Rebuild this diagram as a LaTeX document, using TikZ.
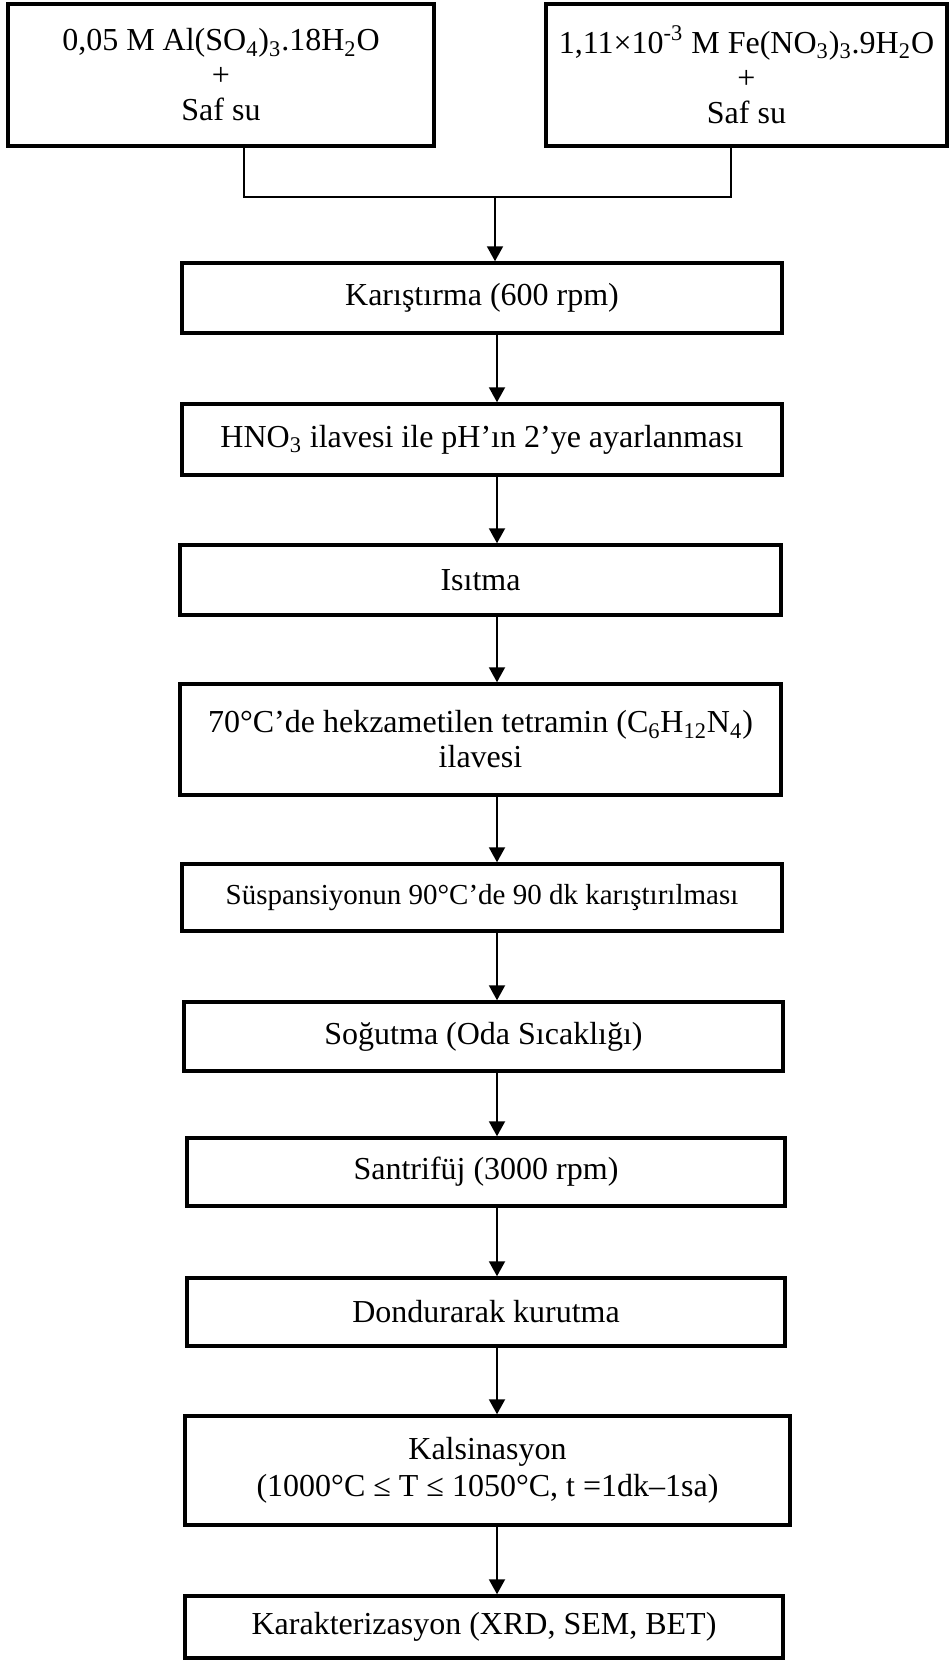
\documentclass[tikz,border=0pt]{standalone}
\usepackage{fontspec}
\setmainfont{Liberation Serif}
\usetikzlibrary{arrows.meta}
\newcommand{\chemsub}[1]{\textsubscript{#1}}

\begin{document}
\begin{tikzpicture}[x=0.5pt, y=-0.5pt,
	box/.style={draw, line width=1.75pt, inner sep=0pt, align=center, font=\fontsize{16}{17.5}\selectfont},
	flow/.style={line width=1pt, -{Triangle[length=7.5pt,width=8pt]}}]
	\useasboundingbox (0,0) rectangle (950,1666);

	% Starting solutions
	\node[box, minimum width=213pt, minimum height=71pt] (alsol) at (221,75)
		{0,05 M Al(SO\chemsub{4})\chemsub{3}.18H\chemsub{2}O\\+\\Saf su};
	\node[box, minimum width=200.5pt, minimum height=71pt] (fesol) at (746.5,75)
		{1,11×10\textsuperscript{-3} M Fe(NO\chemsub{3})\chemsub{3}.9H\chemsub{2}O\\+\\Saf su};

	% Mixing the two
	\coordinate (leftdrop) at (244,197);
	\coordinate (rightdrop) at (731,197);
	\coordinate (join) at (495,197);
	\coordinate (spine) at (497,0);
	\draw[line width=1pt] (alsol.south -| leftdrop) -- (leftdrop) -- (rightdrop) -- (fesol.south -| rightdrop);

	% Steps
	\node[box, minimum width=300pt, minimum height=35pt] (karis) at (482,298) {Karıştırma (600 rpm)};
	\node[box, minimum width=300pt, minimum height=35.5pt] (hno) at (482,439.5) {HNO\chemsub{3} ilavesi ile pH’ın 2’ye ayarlanması};
	\node[box, minimum width=300.5pt, minimum height=35pt] (isit) at (480.5,580) {Isıtma};
	\node[box, minimum width=300.5pt, minimum height=55.5pt] (hekza) at (480.5,739.5)
		{70°C’de hekzametilen tetramin (C\chemsub{6}H\chemsub{12}N\chemsub{4})\\ilavesi};
	\node[box, minimum width=300pt, minimum height=33.5pt, font=\fontsize{14.5}{16}\selectfont] (susp) at (482,897.5)
		{Süspansiyonun 90°C’de 90 dk karıştırılması};
	\node[box, minimum width=299.5pt, minimum height=34.5pt] (sogut) at (483.5,1036.5) {Soğutma (Oda Sıcaklığı)};
	\node[box, minimum width=299pt, minimum height=34pt] (santri) at (486,1172) {Santrifüj (3000 rpm)};
	\node[box, minimum width=299pt, minimum height=34pt] (dondur) at (486,1312) {Dondurarak kurutma};
	\node[box, minimum width=302.5pt, minimum height=54.5pt, font=\fontsize{16}{18.5}\selectfont] (kals) at (487.5,1470.5)
		{Kalsinasyon\\(1000°C ≤ T ≤ 1050°C, t =1dk–1sa)};
	\node[box, minimum width=299pt, minimum height=31pt] (karak) at (484,1627) {Karakterizasyon (XRD, SEM, BET)};

	% Arrows
	\draw[flow] (join) -- (karis.north -| join);
	\draw[flow] (karis.south -| spine) -- (hno.north -| spine);
	\draw[flow] (hno.south -| spine) -- (isit.north -| spine);
	\draw[flow] (isit.south -| spine) -- (hekza.north -| spine);
	\draw[flow] (hekza.south -| spine) -- (susp.north -| spine);
	\draw[flow] (susp.south -| spine) -- (sogut.north -| spine);
	\draw[flow] (sogut.south -| spine) -- (santri.north -| spine);
	\draw[flow] (santri.south -| spine) -- (dondur.north -| spine);
	\draw[flow] (dondur.south -| spine) -- (kals.north -| spine);
	\draw[flow] (kals.south -| spine) -- (karak.north -| spine);
\end{tikzpicture}
\end{document}
